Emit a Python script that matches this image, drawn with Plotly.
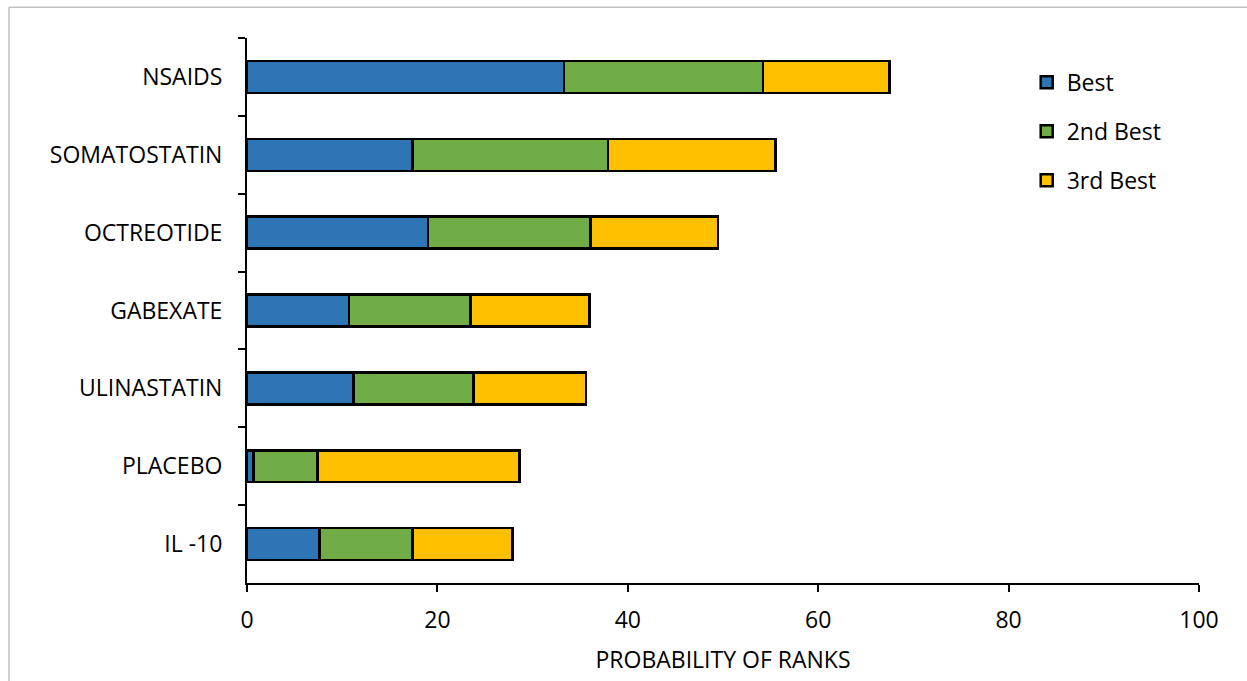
import plotly.graph_objects as go

# Treatments, listed top to bottom
treatments = ["NSAIDS", "SOMATOSTATIN", "OCTREOTIDE", "GABEXATE",
              "ULINASTATIN", "PLACEBO", "IL -10"]

# Probability (%) of each rank per treatment
best = [33.3, 17.4, 19.0, 10.7, 11.2, 0.7, 7.6]
second_best = [20.9, 20.5, 17.1, 12.8, 12.6, 6.7, 9.8]
third_best = [13.3, 17.6, 13.4, 12.5, 11.8, 21.2, 10.5]

series = [
    ("Best", best, "#2E75B6"),
    ("2nd Best", second_best, "#70AD47"),
    ("3rd Best", third_best, "#FFC000"),
]

FONT = "Open Sans, Liberation Sans, sans-serif"
FSIZE = 23

fig = go.Figure()
for i, (name, vals, color) in enumerate(series):
    fig.add_trace(go.Bar(
        name=name,
        y=treatments,
        x=vals,
        orientation="h",
        legendgroup=f"g{i}",
        marker=dict(color=color, line=dict(color="black", width=2.5)),
        width=0.41,
    ))

fig.update_layout(
    barmode="stack",
    width=1247,
    height=681,
    margin=dict(l=247, r=48, t=38, b=93),
    paper_bgcolor="white",
    plot_bgcolor="white",
    font=dict(family=FONT, size=FSIZE, color="black"),
    showlegend=True,
    legend=dict(
        x=0.819, y=0.958, xanchor="left", yanchor="top",
        traceorder="grouped", tracegroupgap=16,
        font=dict(family=FONT, size=FSIZE, color="black"),
        bgcolor="rgba(0,0,0,0)",
        itemwidth=30,
    ),
    xaxis=dict(
        range=[0, 100],
        tickvals=[0, 20, 40, 60, 80, 100],
        showgrid=False, zeroline=False,
        showline=True, linecolor="black", linewidth=2,
        ticks="outside", ticklen=7, tickwidth=2, tickcolor="black",
        ticklabelstandoff=8,
        title=dict(text="PROBABILITY OF RANKS", standoff=18,
                   font=dict(family=FONT, size=FSIZE, color="black")),
        tickfont=dict(family=FONT, size=FSIZE, color="black"),
    ),
    yaxis=dict(
        autorange="reversed",
        showgrid=False, zeroline=False,
        showline=True, linecolor="black", linewidth=2,
        ticks="outside", ticklen=7, tickwidth=2, tickcolor="black",
        tickson="boundaries",
        ticklabelstandoff=18,
        tickfont=dict(family=FONT, size=FSIZE, color="black"),
    ),
    shapes=[
        dict(type="line", xref="paper", yref="paper",
             x0=-238 / 952, x1=1.1, y0=1 + 31 / 550, y1=1 + 31 / 550,
             line=dict(color="#BFBFBF", width=1.5)),
        dict(type="line", xref="paper", yref="paper",
             x0=-238 / 952, x1=-238 / 952, y0=1 + 31 / 550, y1=-0.2,
             line=dict(color="#BFBFBF", width=1.5)),
    ],
)

fig.write_html("out.html")
